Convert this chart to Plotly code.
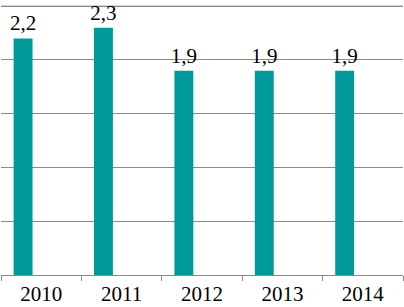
import plotly.graph_objects as go

categories = ["2010", "2011", "2012", "2013", "2014"]
values = [2.2, 2.3, 1.9, 1.9, 1.9]
labels = [f"{v:.1f}".replace(".", ",") for v in values]
y_max = 2.5

SERIF = "Liberation Serif"
GRID = "#8a8a8a"

fig = go.Figure()
fig.add_trace(go.Bar(
    x=categories, y=values,
    width=0.235, offset=-0.343,
    marker=dict(color="#009999", line=dict(width=0)),
    text=labels, textposition="outside", cliponaxis=False, constraintext="none",
    textfont=dict(family=SERIF, size=21, color="#000000"),
    hoverinfo="skip",
))
fig.add_shape(type="line", xref="paper", x0=0, x1=1, yref="y", y0=y_max, y1=y_max,
              line=dict(color=GRID, width=1), layer="below")
fig.update_layout(
    width=404, height=307,
    margin=dict(l=1, r=1, t=4, b=32, autoexpand=False),
    paper_bgcolor="white", plot_bgcolor="white",
    showlegend=False,
    font=dict(family=SERIF, size=21, color="#000000"),
    xaxis=dict(type="category", showline=True, linecolor=GRID, linewidth=1,
               ticks="outside", tickson="boundaries", ticklen=5, tickcolor=GRID,
               automargin=False, showgrid=False,
               tickfont=dict(family=SERIF, size=21, color="#000000")),
    yaxis=dict(range=[0, 2.52], autorange=False, dtick=0.5, tick0=0, showticklabels=False,
               showgrid=True, automargin=False,
               gridcolor=GRID, gridwidth=1, zeroline=False, showline=False, ticks=""),
)
fig.write_html("out.html", config={"displayModeBar": False},
               post_script="document.body.style.margin='0';")
